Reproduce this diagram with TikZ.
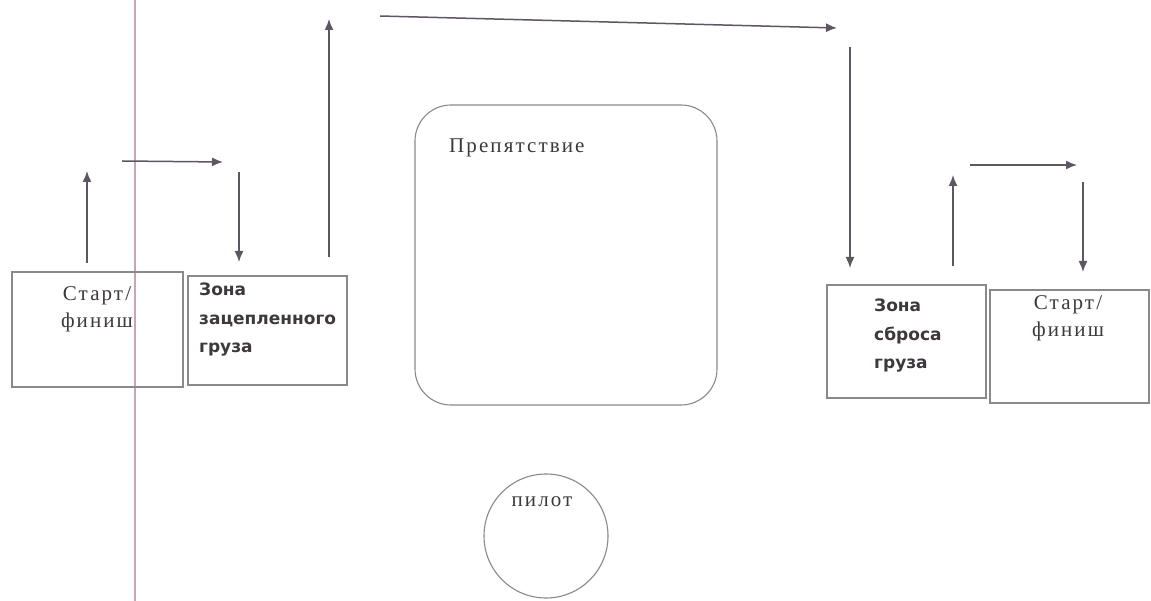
\documentclass[tikz,border=0pt]{standalone}
\usepackage{fontspec}
\setmainfont{Liberation Serif}
\newfontfamily\serifw[LetterSpace=10]{Liberation Serif}
\newfontfamily\sansbold{DejaVu Sans}
\usetikzlibrary{arrows.meta}
\definecolor{boxgray}{HTML}{8C8888}
\definecolor{linegray}{HTML}{5E5660}
\definecolor{txtgray}{HTML}{3E383C}
\definecolor{marginpink}{HTML}{C8A6B6}
\begin{document}
\begin{tikzpicture}[x=1pt,y=-1pt,
  box/.style={draw=boxgray, line width=1.1pt, inner sep=0pt},
  arr/.style={draw=linegray, line width=1.5pt, -{Latex[length=11pt,width=9pt]}},
  seriftext/.style={text=txtgray, font=\serifw\fontsize{21}{27}\selectfont, align=center, inner sep=0pt},
  sanstext/.style={text=txtgray, font=\sansbold\bfseries\fontsize{17}{28.5}\selectfont, align=left, anchor=north west, inner sep=0pt},
]
\useasboundingbox[fill=white] (0,0) rectangle (1151,601);
% margin line
\draw[marginpink, line width=2pt] (135,0) -- (135,601);

% boxes
\node[box, minimum width=171pt, minimum height=115pt] (startA) at (97.5,329.5) {};
\node[box, minimum width=159pt, minimum height=109pt] (zoneA) at (267.5,330.5) {};
\node[box, rounded corners=36pt, minimum width=302pt, minimum height=300pt] (obst) at (566,255) {};
\node[box, circle, minimum size=124pt] (pilot) at (546,536) {};
\node[box, minimum width=159pt, minimum height=113pt] (zoneB) at (906.5,341.5) {};
\node[box, minimum width=159pt, minimum height=113pt] (startB) at (1069.5,346.5) {};

% texts
\node[seriftext] (tA) at (97,309) {Старт/\\финиш};
\node[sanstext] (tZA) at (199,283) {Зона\\зацепленного\\груза};
\node[seriftext, anchor=west] (tO) at (449,148) {Препятствие};
\node[seriftext] (tP) at (542,502) {пилот};
\node[sanstext] (tZB) at (874,299) {Зона\\сброса\\груза};
\node[seriftext] (tB) at (1068,318) {Старт/\\финиш};

% connector coordinates
\coordinate (a1s) at (87,263);  \coordinate (a1e) at (87,171);
\coordinate (a2s) at (122,161); \coordinate (a2e) at (223,162);
\coordinate (a3s) at (239,172); \coordinate (a3e) at (239,262);
\coordinate (a4s) at (329,257); \coordinate (a4e) at (329,19);
\coordinate (a5s) at (380,16);  \coordinate (a5e) at (837,28);
\coordinate (a6s) at (850,47);  \coordinate (a6e) at (850,268);
\coordinate (a7s) at (953,266); \coordinate (a7e) at (953,175);
\coordinate (a8s) at (970,165); \coordinate (a8e) at (1077,165);
\coordinate (a9s) at (1083,182);\coordinate (a9e) at (1083,272);

\draw[arr] (a1s) -- (a1e);
\draw[arr] (a2s) -- (a2e);
\draw[arr] (a3s) -- (a3e);
\draw[arr] (a4s) -- (a4e);
\draw[arr] (a5s) -- (a5e);
\draw[arr] (a6s) -- (a6e);
\draw[arr] (a7s) -- (a7e);
\draw[arr] (a8s) -- (a8e);
\draw[arr] (a9s) -- (a9e);
\end{tikzpicture}
\end{document}
